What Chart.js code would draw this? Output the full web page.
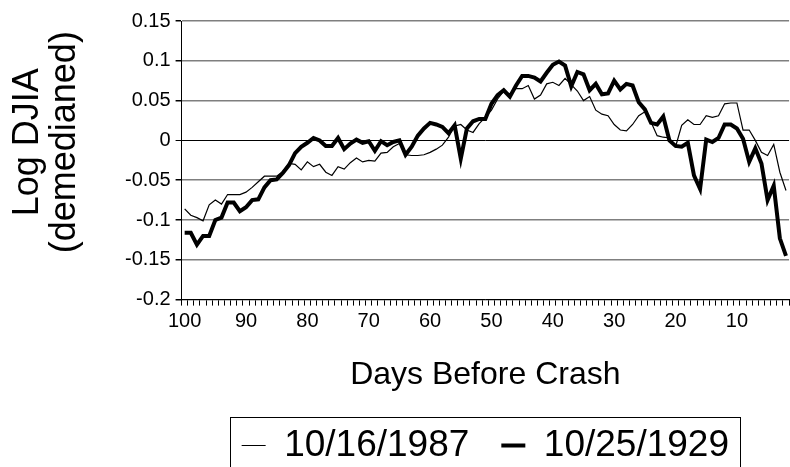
<!DOCTYPE html>
<html>
<head>
<meta charset="utf-8">
<script src="https://cdn.jsdelivr.net/npm/chart.js@4.4.1/dist/chart.umd.min.js"></script>
<style>
  html, body { margin: 0; padding: 0; background: #fff; overflow: hidden; }
  #wrap { width: 790px; height: 474px; position: relative; }
</style>
</head>
<body>
<div id="wrap"><canvas id="crash-chart"></canvas></div>
<script>
// days before the crash, 100 down to 2 (the picture is cut off after day 2)
const days = [];
for (let d = 100; d >= 2; d--) days.push(d);

// log DJIA, demedianed (day 100 first)
const crash1987 = [
  -0.086, -0.094, -0.097, -0.101, -0.081, -0.075, -0.080, -0.068, -0.068, -0.068,
  -0.065, -0.059, -0.052, -0.045, -0.045, -0.045, -0.039, -0.029, -0.030, -0.037,
  -0.027, -0.033, -0.030, -0.040, -0.044, -0.033, -0.036, -0.028, -0.022, -0.027,
  -0.025, -0.026, -0.016, -0.015, -0.008, -0.004, -0.018, -0.019, -0.019, -0.018,
  -0.015, -0.011, -0.006, 0.004, 0.018, 0.020, 0.013, 0.010, 0.021, 0.029,
  0.038, 0.052, 0.062, 0.058, 0.065, 0.065, 0.069, 0.052, 0.057, 0.071,
  0.073, 0.069, 0.078, 0.070, 0.062, 0.050, 0.055, 0.038, 0.033, 0.031,
  0.020, 0.013, 0.012, 0.020, 0.031, 0.036, 0.023, 0.006, 0.004, 0.003,
  -0.008, 0.019, 0.026, 0.020, 0.020, 0.031, 0.029, 0.031, 0.046, 0.047,
  0.047, 0.013, 0.013, 0.000, -0.015, -0.019, -0.005, -0.040, -0.063
];
const crash1929 = [
  -0.116, -0.116, -0.131, -0.120, -0.120, -0.100, -0.097, -0.078, -0.078, -0.089,
  -0.084, -0.075, -0.074, -0.059, -0.050, -0.049, -0.041, -0.031, -0.016, -0.008,
  -0.003, 0.003, 0.000, -0.007, -0.007, 0.003, -0.011, -0.004, 0.001, -0.003,
  -0.001, -0.013, -0.001, -0.006, -0.002, 0.000, -0.018, -0.008, 0.006, 0.015,
  0.022, 0.020, 0.017, 0.009, 0.019, -0.023, 0.015, 0.024, 0.027, 0.027,
  0.046, 0.057, 0.063, 0.055, 0.069, 0.081, 0.081, 0.079, 0.074, 0.085,
  0.095, 0.099, 0.094, 0.068, 0.086, 0.083, 0.063, 0.071, 0.058, 0.059,
  0.075, 0.064, 0.071, 0.069, 0.048, 0.039, 0.022, 0.020, 0.030, 0.000,
  -0.007, -0.008, -0.003, -0.044, -0.061, 0.001, -0.002, 0.003, 0.020, 0.020,
  0.015, 0.002, -0.027, -0.010, -0.029, -0.075, -0.057, -0.123, -0.145
];

const seriesNames = ["10/16/1987", "10/25/1929"];
const yTicks = [-0.2, -0.15, -0.1, -0.05, 0, 0.05, 0.1, 0.15];
const yTitleLines = ["Log DJIA", "(demedianed)"];

const fontFamily = "'Liberation Sans', Arial, sans-serif";
Chart.defaults.font.family = fontFamily;
Chart.defaults.color = "#000";

// excel style frame round the legend, open at the bottom because the picture is cropped
const legendFrame = {
  id: "legendFrame",
  afterDraw(chart) {
    const boxes = chart.legend.legendHitBoxes;
    if (!boxes || !boxes.length) return;
    const first = boxes[0];
    const last = boxes[boxes.length - 1];
    const ctx = chart.ctx;
    const left = Math.round(first.left - 12) + 0.5;
    const right = Math.round(last.left + last.width + 11) + 0.5;
    const top = Math.round(first.top - 10) + 0.5;
    ctx.save();
    ctx.strokeStyle = "#000";
    ctx.lineWidth = 1;
    ctx.strokeRect(left, top, right - left, chart.height);
    ctx.restore();
  }
};

// the value axis title sits a bit above the middle of the plot in the original,
// so it is drawn here instead of with scales.y.title
const yTitle = {
  id: "yTitle",
  afterDraw(chart) {
    const ctx = chart.ctx;
    const area = chart.chartArea;
    const midY = area.top + (area.bottom - area.top) * 0.435;
    ctx.save();
    ctx.fillStyle = "#000";
    ctx.font = "36px " + fontFamily;
    ctx.textAlign = "center";
    ctx.textBaseline = "middle";
    yTitleLines.forEach(function (line, i) {
      ctx.save();
      ctx.translate(28 + i * 37, midY);
      ctx.rotate(-Math.PI / 2);
      ctx.fillText(line, 0, 0);
      ctx.restore();
    });
    ctx.restore();
  }
};

document.addEventListener("DOMContentLoaded", function () {
  const ctx = document.getElementById("crash-chart").getContext("2d");
  new Chart(ctx, {
    type: "line",
    data: {
      labels: days,
      datasets: [{
        label: seriesNames[0],
        data: crash1987,
        borderColor: "#000",
        backgroundColor: "#000",
        borderWidth: 1.2,
        pointRadius: 0,
        tension: 0
      }, {
        label: seriesNames[1],
        data: crash1929,
        borderColor: "#000",
        backgroundColor: "#000",
        borderWidth: 4,
        pointRadius: 0,
        tension: 0
      }]
    },
    options: {
      responsive: true,
      maintainAspectRatio: false,
      animation: false,
      layout: { padding: { top: 21, right: 0, left: 120, bottom: 0 } },
      plugins: {
        tooltip: { enabled: false },
        legend: {
          position: "bottom",
          fullSize: false,
          labels: {
            usePointStyle: true,
            pointStyle: "line",
            pointStyleWidth: 24,
            padding: 32,
            color: "#000",
            font: { size: 37 }
          }
        }
      },
      scales: {
        x: {
          type: "category",
          offset: true,
          grid: {
            offset: true,
            drawOnChartArea: false,
            tickLength: 6,
            tickColor: "#000",
            tickWidth: 1
          },
          border: { color: "#000", width: 1 },
          ticks: {
            autoSkip: false,
            maxRotation: 0,
            padding: 4,
            color: "#000",
            font: { size: 20 },
            callback: function (value) {
              const d = this.getLabelForValue(value);
              return d % 10 === 0 ? String(d) : "";
            }
          },
          title: {
            display: true,
            text: "Days Before Crash",
            color: "#000",
            font: { size: 32 },
            padding: { top: 18, bottom: 1 }
          }
        },
        y: {
          min: yTicks[0],
          max: yTicks[yTicks.length - 1],
          afterBuildTicks: function (axis) {
            axis.ticks = yTicks.map(v => ({ value: v }));
          },
          grid: {
            color: c => (c.tick && c.tick.value === 0 ? "#000" : "#7f7f7f"),
            lineWidth: c => (c.tick && c.tick.value === 0 ? 1 : 1.5),
            tickLength: 6,
            tickColor: "#000"
          },
          border: { color: "#000", width: 1 },
          ticks: {
            padding: 5,
            color: "#000",
            font: { size: 20 },
            callback: v => String(Number(v.toFixed(2)))
          }
        }
      }
    },
    plugins: [legendFrame, yTitle]
  });
});
</script>
</body>
</html>
